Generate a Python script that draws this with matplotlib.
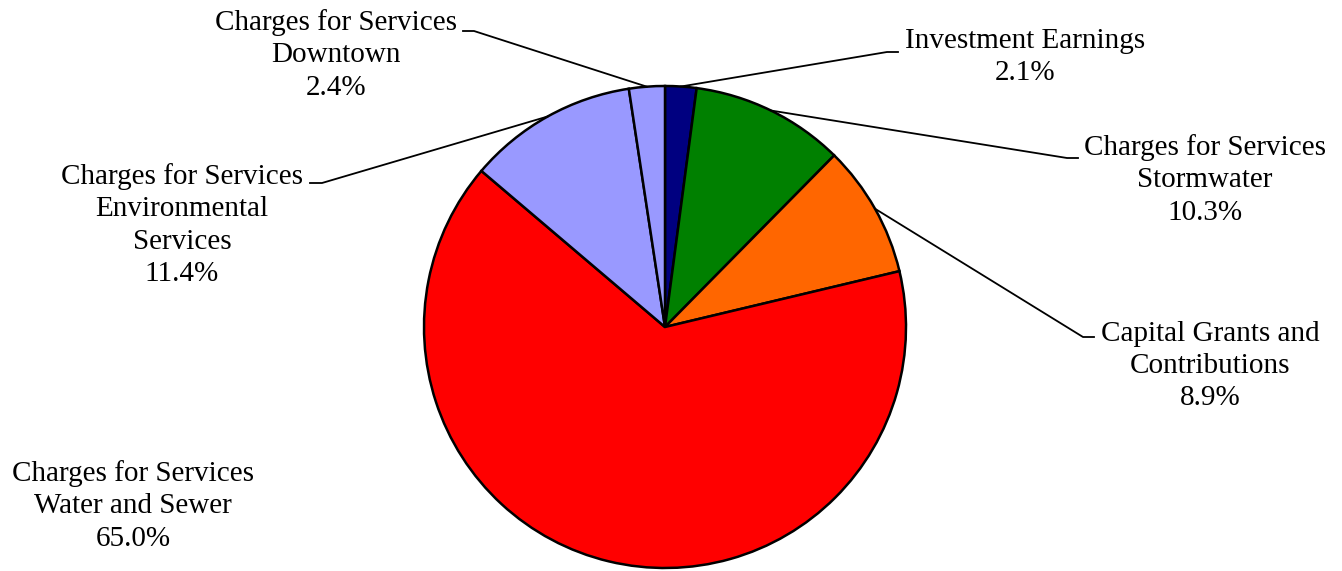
import numpy as np
import matplotlib.pyplot as plt

# du lieu
labels = ["Investment Earnings", "Charges for Services\nStormwater",
          "Capital Grants and\nContributions", "Charges for Services\nWater and Sewer",
          "Charges for Services\nEnvironmental\nServices", "Charges for Services\nDowntown"]
values = [2.1, 10.3, 8.9, 65.0, 11.4, 2.4]
colors = ["#000080", "#008000", "#FF6600", "#FF0000", "#9999FF", "#9999FF"]

# vi tri nhan (pixel, tinh tu tren xuong) va diem gap cua duong dan
label_pos = [(1025, 57), (1205, 180), (1210, 366), (133, 506), (182, 225), (336, 55)]
elbows = [((887, 52), (898, 52)), ((1067, 158), (1078, 158)), ((1083, 337), (1094, 337)),
          None, ((322, 183), (310, 183)), ((474, 31), (463, 31))]

W, H = 1342, 571
cx, cy, r = 665, 327, 241

plt.rcParams['font.family'] = ['Liberation Serif', 'DejaVu Serif']
fig = plt.figure(figsize=(W / 100, H / 100), dpi=100)
ax = fig.add_axes([0, 0, 1, 1])

wedges, _ = ax.pie(values, colors=colors, startangle=90, counterclock=False,
                   center=(cx, H - cy), radius=r,
                   wedgeprops=dict(edgecolor='black', linewidth=1.8))

# pie() dat lai gioi han truc, nen dat sau
ax.set_xlim(0, W)
ax.set_ylim(0, H)
ax.set_aspect('equal')
ax.axis('off')

for w, lab, v, pos, el in zip(wedges, labels, values, label_pos, elbows):
    ax.text(pos[0], H - pos[1], f"{lab}\n{v:.1f}%", ha='center', va='center',
            multialignment='center', fontsize=21, linespacing=1.32)
    if el is None:
        continue
    ang = np.deg2rad((w.theta1 + w.theta2) / 2)
    x0 = cx + r * np.cos(ang)
    y0 = (H - cy) + r * np.sin(ang)
    xs = [x0, el[0][0], el[1][0]]
    ys = [y0, H - el[0][1], H - el[1][1]]
    ax.plot(xs, ys, color='black', linewidth=1.3)

fig.savefig("out.png", dpi=100)
